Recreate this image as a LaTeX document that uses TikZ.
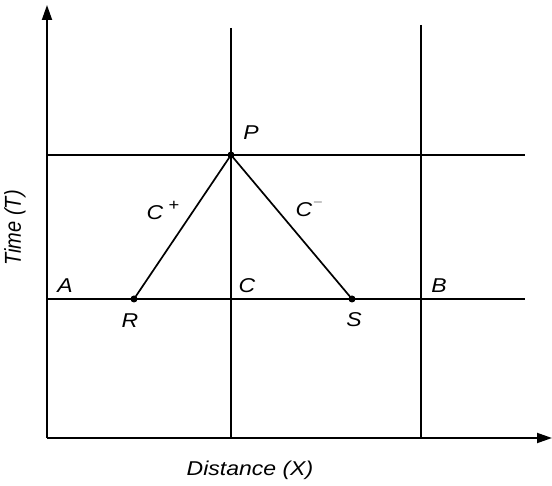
\documentclass[tikz,border=0pt]{standalone}
\usepackage{fontspec}
\setmainfont{Liberation Sans}
\usetikzlibrary{arrows.meta}
\begin{document}
\begin{tikzpicture}[x=1pt,y=-1pt,
  line/.style={line width=1.7pt},
  axis/.style={line width=1.9pt,-{Triangle[length=15pt,width=10pt]}},
  dot/.style={circle,fill=black,inner sep=0pt,minimum size=7pt},
  lbl/.style={font=\fontsize{20}{22}\selectfont\itshape,inner sep=0pt,xscale=1.15}]
\useasboundingbox (0,0) rectangle (552,486);
% axes
\coordinate (O) at (47,438);
\coordinate (Ytop) at (47,5);
\coordinate (Xend) at (552,438);
\draw[axis] (O) -- (Ytop);
\draw[axis] (O) -- (Xend);
% grid
\coordinate (V1t) at (231,28);
\coordinate (V1b) at (231,438);
\coordinate (V2t) at (421,25);
\coordinate (V2b) at (421,438);
\coordinate (H1l) at (47,155);
\coordinate (H1r) at (525,155);
\coordinate (H2l) at (47,299);
\coordinate (H2r) at (525,299);
\draw[line] (V1t) -- (V1b);
\draw[line] (V2t) -- (V2b);
\draw[line] (H1l) -- (H1r);
\draw[line] (H2l) -- (H2r);
% points
\node[dot] (P) at (231,155) {};
\node[dot] (R) at (134,299) {};
\node[dot] (S) at (352,299) {};
\draw[line] (R.center) -- (P.center) -- (S.center);
% labels
\node[lbl] (lP) at (251,133) {P};
\node[lbl] (lCp) at (155,213) {C};
\node[lbl,font=\fontsize{16}{16}\selectfont] (lplus) at (174,206) {+};
\node[lbl] (lCm) at (304,210) {C};
\node[lbl,font=\fontsize{13}{13}\selectfont] (lminus) at (318,203) {$-$};
\node[lbl] (lA) at (65,286) {A};
\node[lbl] (lC) at (247,286) {C};
\node[lbl] (lB) at (439,286) {B};
\node[lbl] (lR) at (130,321) {R};
\node[lbl] (lS) at (354,320) {S};
\node[lbl,rotate=90,xscale=1] (lT) at (15,228) {Time (T)};
\node[lbl] (lX) at (250,470) {Distance (X)};
\end{tikzpicture}
\end{document}
